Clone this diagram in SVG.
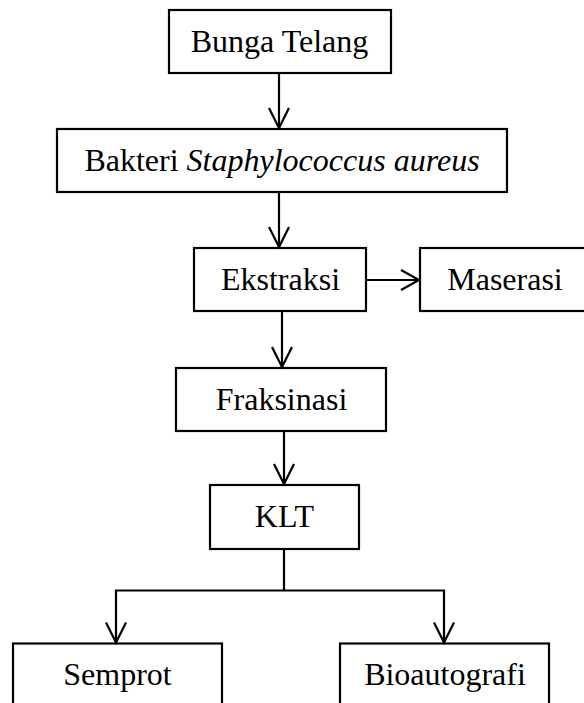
<svg xmlns="http://www.w3.org/2000/svg" width="584" height="703" viewBox="0 0 584 703">
<style>
.box{fill:#fff;stroke:#000;stroke-width:2.2}
.t{font-family:"Liberation Serif","Times New Roman",serif;font-size:32px;fill:#000;text-anchor:middle}
.c{fill:none;stroke:#000;stroke-width:2.2}
</style>
<rect width="584" height="703" fill="#fff"/>
<g id="n-bunga"><rect class="box" x="169" y="10" width="222" height="63"/><text class="t" x="279.5" y="52">Bunga Telang</text></g>
<g id="n-bakteri"><rect class="box" x="57" y="129" width="450" height="63"/><text class="t" x="282" y="171">Bakteri <tspan font-style="italic">Staphylococcus aureus</tspan></text></g>
<g id="n-ekstraksi"><rect class="box" x="194" y="248" width="172" height="63"/><text class="t" x="280.5" y="290">Ekstraksi</text></g>
<g id="n-maserasi"><rect class="box" x="420" y="248" width="172" height="63"/><text class="t" x="505" y="290">Maserasi</text></g>
<g id="n-fraksinasi"><rect class="box" x="176" y="368" width="210" height="63"/><text class="t" x="281.5" y="410">Fraksinasi</text></g>
<g id="n-klt"><rect class="box" x="210" y="485" width="149" height="64"/><text class="t" x="284.5" y="527">KLT</text></g>
<g id="n-semprot"><rect class="box" x="13" y="643.5" width="209" height="70"/><text class="t" x="117.5" y="685">Semprot</text></g>
<g id="n-bio"><rect class="box" x="340" y="643.5" width="209" height="70"/><text class="t" x="445" y="685">Bioautografi</text></g>
<g id="connectors">
<path class="c" d="M279 73V128"/><path class="c" d="M269 108L279 128L289 108"/>
<path class="c" d="M279 192V247"/><path class="c" d="M269 227L279 247L289 227"/>
<path class="c" d="M366 280H419"/><path class="c" d="M401 270L419 280L401 290"/>
<path class="c" d="M282 311V367"/><path class="c" d="M272 347L282 367L292 347"/>
<path class="c" d="M284 431V484"/><path class="c" d="M274 464L284 484L294 464"/>
<path class="c" d="M284 549V590.5M116 590.5H444M116 589.5V642.5M444 589.5V642.5"/>
<path class="c" d="M106 622.5L116 642.5L126 622.5M434 622.5L444 642.5L454 622.5"/>
</g>
</svg>
